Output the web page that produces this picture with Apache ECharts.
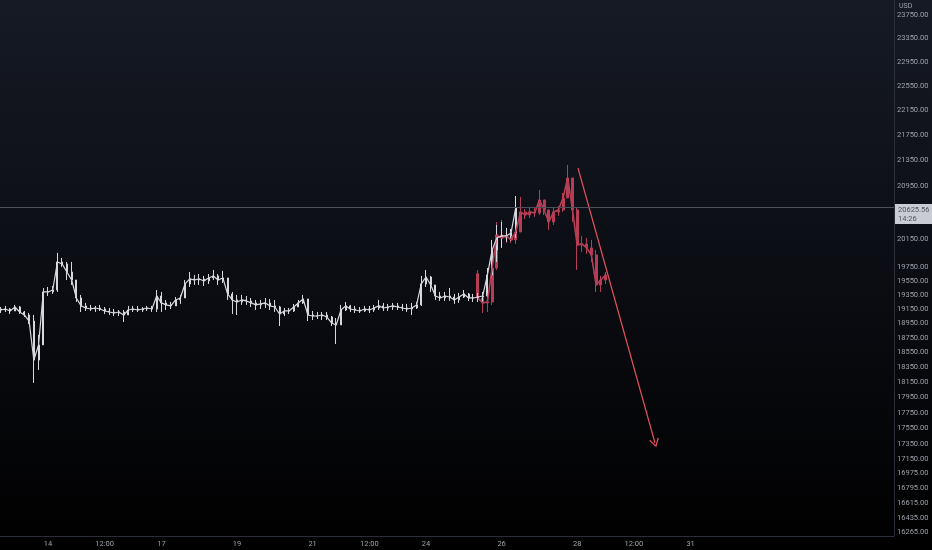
<!DOCTYPE html>
<html>
<head>
<meta charset="utf-8">
<title>BTCUSD</title>
<script src="https://cdn.jsdelivr.net/npm/echarts@6/dist/echarts.min.js"></script>
<style>
    html, body { margin: 0; padding: 0; background: #000; }
    #main { width: 932px; height: 550px; }
</style>
</head>
<body>
<div id="main"></div>
<script>
// 3h bars, first one at Oct 12 18:00 UTC
var barStart = Date.UTC(2022, 9, 12, 18);
var barStep = 3 * 3600 * 1000;

// white (real) bars
var wFirstOpen = 19150;
var wHigh = [
    19178, 19193, 19164, 19207, 19193, 19122, 19094, 19066, 18789, 19447,
    19461, 19475, 19952, 19879, 19821, 19821, 19561, 19348, 19235, 19207,
    19193, 19207, 19178, 19164, 19150, 19136, 19136, 19193, 19193, 19193,
    19178, 19193, 19193, 19418, 19390, 19277, 19249, 19319, 19348, 19561,
    19676, 19633, 19647, 19619, 19647, 19705, 19647, 19691, 19590, 19390,
    19348, 19348, 19333, 19305, 19277, 19277, 19305, 19291, 19277, 19193,
    19164, 19164, 19221, 19277, 19348, 19291, 19122, 19108, 19108, 19108,
    19052, 19024, 19207, 19249, 19207, 19193, 19178, 19193, 19193, 19207,
    19277, 19235, 19221, 19235, 19235, 19221, 19221, 19235, 19249, 19619,
    19705, 19619, 19490, 19390, 19390, 19447, 19362, 19376, 19418, 19376,
    19362, 19376, 19390, 19734, 20143, 20365, 20410, 20321, 20306, 20802
];
var wLow = [
    19094, 19108, 19080, 19122, 19080, 19038, 18941, 18141, 18314, 18652,
    19333, 19362, 19390, 19749, 19561, 19490, 19249, 19108, 19122, 19122,
    19108, 19122, 19080, 19066, 19052, 19052, 18968, 19080, 19108, 19108,
    19108, 19122, 19108, 19108, 19108, 19136, 19150, 19193, 19221, 19305,
    19461, 19490, 19490, 19475, 19504, 19561, 19490, 19518, 19277, 19080,
    19066, 19207, 19207, 19178, 19136, 19150, 19164, 19136, 19108, 18913,
    19052, 19080, 19108, 19178, 19221, 18982, 18996, 19010, 18996, 18996,
    18913, 18665, 18927, 19122, 19108, 19094, 19094, 19108, 19094, 19108,
    19136, 19122, 19122, 19136, 19136, 19122, 19108, 19066, 19150, 19193,
    19461, 19390, 19277, 19263, 19263, 19263, 19221, 19235, 19305, 19263,
    19249, 19249, 19249, 19305, 19590, 19821, 20026, 20114, 20128, 20173
];
var wClose = [
    19136, 19150, 19122, 19178, 19108, 19066, 18982, 18448, 18652, 19390,
    19390, 19418, 19821, 19792, 19676, 19561, 19305, 19193, 19164, 19150,
    19164, 19150, 19122, 19108, 19094, 19108, 19066, 19136, 19150, 19136,
    19150, 19164, 19150, 19333, 19235, 19207, 19193, 19277, 19305, 19504,
    19576, 19561, 19576, 19547, 19590, 19619, 19561, 19590, 19362, 19277,
    19249, 19277, 19263, 19235, 19207, 19221, 19235, 19193, 19178, 19080,
    19122, 19122, 19178, 19235, 19291, 19066, 19052, 19052, 19066, 19038,
    18955, 18927, 19136, 19193, 19150, 19136, 19122, 19150, 19136, 19164,
    19193, 19164, 19178, 19193, 19178, 19164, 19150, 19164, 19207, 19504,
    19604, 19490, 19333, 19305, 19333, 19319, 19277, 19319, 19362, 19305,
    19305, 19319, 19333, 19633, 19996, 20173, 20202, 20202, 20247, 20625.56
];

// red projected bars (bars pattern), start at bar 101
var rStartIdx = 101;
var rFirstOpen = 19650;
var rHigh = [
    19705, 19319, 19277, 19821, 20410, 20440, 20261, 20291, 20350, 20787,
    20605, 20620, 20636, 20894, 20741, 20590, 20636, 20651, 20848, 21280,
    21078, 20620, 20202, 20173, 20143, 19996, 19619, 19676
];
var rLow = [
    19277, 19094, 19108, 19207, 19705, 20040, 20099, 20099, 20084, 20261,
    20455, 20470, 20485, 20515, 20515, 20291, 20365, 20500, 20560, 20772,
    20410, 19705, 19967, 19938, 19821, 19390, 19390, 19504
];
var rClose = [
    19305, 19235, 19249, 19734, 20217, 20173, 20202, 20143, 20261, 20560,
    20515, 20560, 20545, 20741, 20590, 20410, 20560, 20590, 20772, 21078,
    20590, 20070, 20084, 20026, 19923, 19490, 19561, 19633
];

// arrow drawing
var arrowFrom = [Date.UTC(2022, 9, 28, 0, 30), 21233];
var arrowTo = [Date.UTC(2022, 9, 30, 1, 25), 17360];

// axis ticks
var yTicks = [23750, 23350, 22950, 22550, 22150, 21750, 21350, 20950, 20150, 19750,
    19550, 19350, 19150, 18950, 18750, 18550, 18350, 18150, 17950, 17750,
    17550, 17350, 17150, 16975, 16795, 16615, 16435, 16265];
var xTicks = [
    Date.UTC(2022, 9, 14), Date.UTC(2022, 9, 15, 12), Date.UTC(2022, 9, 17),
    Date.UTC(2022, 9, 19), Date.UTC(2022, 9, 21), Date.UTC(2022, 9, 22, 12),
    Date.UTC(2022, 9, 24), Date.UTC(2022, 9, 26), Date.UTC(2022, 9, 28),
    Date.UTC(2022, 9, 29, 12), Date.UTC(2022, 9, 31)
];
var xMin = Date.UTC(2022, 9, 12, 17, 31);
var xMax = Date.UTC(2022, 9, 36, 9, 9);
var yMin = 16217, yMax = 24012;

var lastPrice = wClose[wClose.length - 1];
var countdown = '14:26';

function buildBars(startIdx, firstOpen, hi, lo, cl) {
    var out = [];
    for (var i = 0; i < cl.length; i++) {
        var open = i == 0 ? firstOpen : cl[i - 1];
        out.push([barStart + (startIdx + i) * barStep, open, cl[i], lo[i], hi[i]]);
    }
    return out;
}

// close path, joins the bars into one jagged line
function buildPath(startIdx, cl) {
    var out = [];
    for (var i = 0; i < cl.length; i++) {
        out.push([barStart + (startIdx + i) * barStep, cl[i]]);
    }
    return out;
}

var labelColor = '#9ea1aa';
var white = '#d6d8de';
var red = '#b63d56';

function barSeries(name, data, color, w) {
    return {
        name: name,
        type: 'candlestick',
        data: data,
        encode: {x: 0, y: [1, 2, 3, 4]},
        barWidth: w,
        itemStyle: {color: color, color0: color, borderColor: color, borderColor0: color, borderWidth: 1}
    };
}

function pathSeries(name, data, color, w) {
    return {
        name: name,
        type: 'line',
        data: data,
        symbol: 'none',
        lineStyle: {color: color, width: w},
        silent: true
    };
}

var myChart = echarts.init(document.getElementById('main'));
var option = {
    animation: false,
    backgroundColor: {
        type: 'linear', x: 0, y: 0, x2: 0, y2: 1,
        colorStops: [
            {offset: 0, color: '#161a25'},
            {offset: 0.5, color: '#0b0d13'},
            {offset: 1, color: '#000000'}
        ]
    },
    title: {
        text: 'USD', left: 899, top: 3, padding: 0,
        textStyle: {color: labelColor, fontSize: 7, fontWeight: 'normal', fontFamily: 'Roboto'}
    },
    grid: {left: 0, right: 38, top: 0, bottom: 14},
    xAxis: {
        // timestamps on a plain value axis
        type: 'value',
        min: xMin,
        max: xMax,
        axisLine: {show: true, onZero: false, lineStyle: {color: '#2a2e39'}},
        axisTick: {show: false},
        splitLine: {show: false},
        axisLabel: {
            customValues: xTicks,
            hideOverlap: false,
            color: labelColor,
            fontSize: 7.5,
            fontFamily: 'Roboto',
            margin: 4,
            formatter: function (v) {
                var d = new Date(v);
                return d.getUTCHours() == 12 ? '12:00' : String(d.getUTCDate());
            }
        }
    },
    yAxis: {
        type: 'log',
        position: 'right',
        min: yMin,
        max: yMax,
        axisLine: {show: true, lineStyle: {color: '#2a2e39'}},
        axisTick: {show: false},
        splitLine: {show: false},
        axisLabel: {
            customValues: yTicks,
            color: labelColor,
            fontSize: 7.5,
            fontFamily: 'Roboto',
            margin: 3,
            formatter: function (v) {
                return Number(v).toFixed(2);
            }
        }
    },
    series: [
        barSeries('pattern', buildBars(rStartIdx, rFirstOpen, rHigh, rLow, rClose), red, 2.5),
        pathSeries('pattern close', buildPath(rStartIdx, rClose), red, 1.6),
        barSeries('BTCUSD', buildBars(0, wFirstOpen, wHigh, wLow, wClose), white, 1.5),
        pathSeries('BTCUSD close', buildPath(0, wClose), white, 1.2)
    ]
};

// arrow drawing on the pattern
option.series[0].markLine = {
    silent: true,
    symbol: ['none', 'path://M5,0 L10,9 L9,10 L5,2.6 L1,10 L0,9 Z'],
    symbolSize: [10, 9],
    lineStyle: {color: '#e2505c', width: 1.2, type: 'solid'},
    label: {show: false},
    data: [[{coord: arrowFrom}, {coord: arrowTo}]]
};
// last price line
option.series[2].markLine = {
    silent: true,
    symbol: 'none',
    lineStyle: {color: '#4c505b', width: 1, type: 'solid'},
    label: {show: false},
    data: [{yAxis: lastPrice}]
};
myChart.setOption(option);

// last price tag on the axis
var py = myChart.convertToPixel({yAxisIndex: 0}, lastPrice);
var px = myChart.convertToPixel({xAxisIndex: 0}, xMax);
myChart.setOption({
    graphic: [
        {type: 'rect', shape: {x: px, y: py - 3.5, width: 38, height: 20}, style: {fill: '#c9ccd3'}},
        {
            type: 'text', x: px + 4, y: py - 2,
            style: {text: lastPrice.toFixed(2) + '\n' + countdown, fill: '#50535e', font: '7.5px Roboto', lineHeight: 9}
        }
    ]
});
</script>
</body>
</html>
